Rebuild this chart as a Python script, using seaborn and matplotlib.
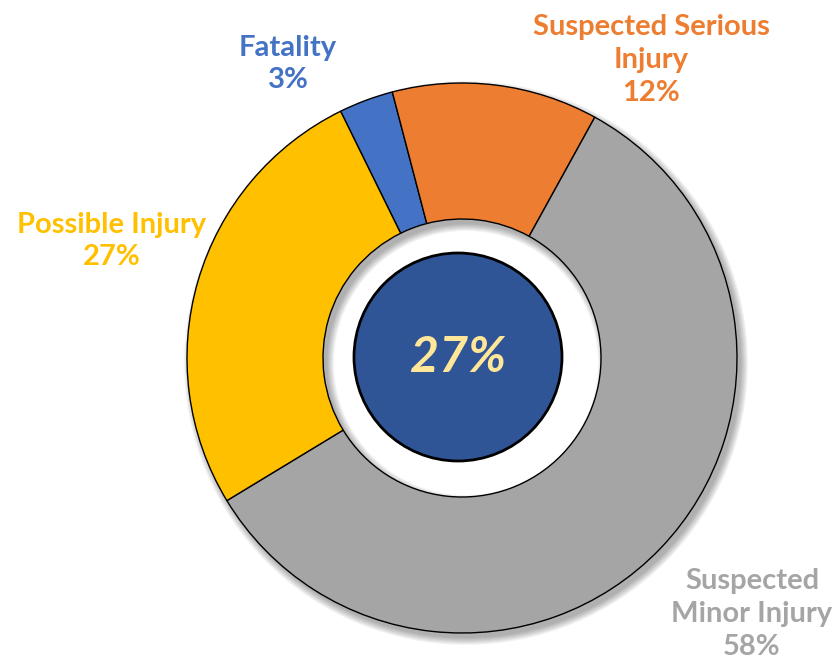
import matplotlib
matplotlib.use("Agg")
from matplotlib import pyplot as plt
from matplotlib.patches import Wedge, Circle
import seaborn as sns

# severity shares (percent, as drawn), clockwise from the top-left
categories = ["Fatality", "Suspected Serious Injury", "Suspected Minor Injury", "Possible Injury"]
shares = [3.2, 12.1, 58.3, 26.4]
label_pct = [3, 12, 58, 27]
label_lines = ["Fatality", "Suspected Serious\nInjury", "Suspected\nMinor Injury", "Possible Injury"]
center_value = "27%"

colors = ["#4472C4", "#ED7D31", "#A5A5A5", "#FFC000"]

sns.set_theme(style="white")
plt.rcParams['font.family'] = ['Lato', 'DejaVu Sans']

W, H = 839, 665
fig = plt.figure(figsize=(W / 100, H / 100), dpi=100)
ax = fig.add_axes([0, 0, 1, 1])

cx, cy = 462, H - 358
R = 275
r_in = 139

# soft drop shadow of the ring (offset to lower right)
for e in range(8):
    ax.add_patch(Wedge((cx + 4, cy - 5), R + e, 0, 360, width=R - r_in + 2 * e,
                       facecolor='black', edgecolor='none', alpha=0.045, zorder=1))

wedges, _ = ax.pie(shares, colors=colors, startangle=116.2, counterclock=False,
                   center=(cx, cy), radius=R, frame=True,
                   wedgeprops=dict(width=R - r_in, edgecolor='black', linewidth=1.0))
for w in wedges:
    w.set_zorder(2)
ax.set_xlim(0, W)
ax.set_ylim(0, H)
ax.set_aspect('equal')
ax.axis('off')

# dark centre disc
ax.add_patch(Circle((cx - 4, cy + 1), 104, facecolor="#2F5597", edgecolor='black',
                    linewidth=2, zorder=3))
ax.text(cx - 4, cy + 1, center_value, ha='center', va='center', fontsize=36,
        fontweight='bold', fontstyle='italic', color="#FFE699", zorder=4)

label_pos = [(288, 64), (651, 60), (752, 614), (112, 241)]
for txt, pct, col, (x, y) in zip(label_lines, label_pct, colors, label_pos):
    ax.text(x, H - y, f"{txt}\n{pct}%", ha='center', va='center', fontsize=21,
            fontweight='bold', color=col, linespacing=1.32, zorder=5)

fig.savefig("out.png", dpi=100)
